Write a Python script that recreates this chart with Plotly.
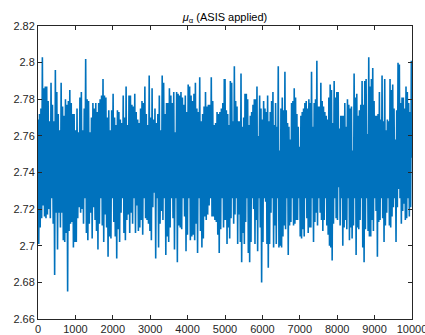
import numpy as np
import plotly.graph_objects as go

# MCMC trace of mu_alpha (ASIS applied), read off the picture as alternating
# upper / lower excursions of the chain.
# Iterations 1 - 5000
trace_first_half = [
    2.769, 2.701, 2.772, 2.710, 2.775, 2.715, 2.803, 2.722, 2.786, 2.716,
    2.787, 2.715, 2.787, 2.717, 2.779, 2.720, 2.768, 2.715, 2.789, 2.726,
    2.777, 2.712, 2.768, 2.684, 2.796, 2.718, 2.784, 2.698, 2.772, 2.718,
    2.763, 2.710, 2.789, 2.718, 2.776, 2.703, 2.771, 2.702, 2.780, 2.707,
    2.777, 2.675, 2.779, 2.708, 2.785, 2.712, 2.778, 2.713, 2.772, 2.699,
    2.772, 2.702, 2.763, 2.702, 2.775, 2.715, 2.762, 2.721, 2.781, 2.718,
    2.784, 2.720, 2.763, 2.712, 2.775, 2.726, 2.802, 2.707, 2.780, 2.703,
    2.779, 2.712, 2.762, 2.718, 2.770, 2.704, 2.778, 2.721, 2.775, 2.714,
    2.778, 2.708, 2.773, 2.698, 2.778, 2.712, 2.780, 2.726, 2.782, 2.711,
    2.791, 2.702, 2.782, 2.717, 2.781, 2.710, 2.770, 2.694, 2.774, 2.705,
    2.763, 2.704, 2.774, 2.726, 2.783, 2.713, 2.770, 2.705, 2.766, 2.693,
    2.774, 2.709, 2.773, 2.702, 2.769, 2.718, 2.767, 2.726, 2.782, 2.707,
    2.770, 2.703, 2.787, 2.714, 2.766, 2.717, 2.782, 2.707, 2.782, 2.718,
    2.777, 2.712, 2.776, 2.726, 2.783, 2.707, 2.773, 2.722, 2.769, 2.708,
    2.767, 2.710, 2.775, 2.714, 2.779, 2.706, 2.778, 2.726, 2.787, 2.715,
    2.772, 2.714, 2.766, 2.712, 2.793, 2.708, 2.770, 2.703, 2.786, 2.721,
    2.769, 2.729, 2.775, 2.693, 2.767, 2.726, 2.772, 2.699, 2.782, 2.712,
    2.763, 2.719, 2.793, 2.714, 2.789, 2.726, 2.772, 2.695, 2.778, 2.705,
    2.778, 2.702, 2.786, 2.710, 2.782, 2.726, 2.778, 2.715, 2.784, 2.698,
    2.762, 2.726, 2.784, 2.691, 2.783, 2.711, 2.782, 2.710, 2.784, 2.709,
    2.781, 2.726, 2.777, 2.716, 2.782, 2.697, 2.773, 2.706, 2.788, 2.726,
    2.787, 2.703, 2.782, 2.705, 2.779, 2.706, 2.783, 2.703, 2.789, 2.712,
    2.775, 2.696, 2.773, 2.726, 2.792, 2.708, 2.768, 2.699, 2.772, 2.704,
    2.776, 2.716, 2.784, 2.714, 2.776, 2.717, 2.777, 2.722, 2.777, 2.726,
    2.792, 2.716, 2.779, 2.716, 2.766, 2.714, 2.767, 2.713, 2.773, 2.706,
    2.772, 2.696, 2.773, 2.709, 2.775, 2.726, 2.778, 2.710, 2.791, 2.714,
]
# Iterations 5001 - 10000
trace_second_half = [
    2.791, 2.714, 2.774, 2.701, 2.772, 2.710, 2.766, 2.704, 2.790, 2.715,
    2.789, 2.726, 2.768, 2.712, 2.798, 2.717, 2.779, 2.726, 2.776, 2.701,
    2.768, 2.717, 2.768, 2.702, 2.794, 2.691, 2.765, 2.707, 2.770, 2.701,
    2.783, 2.713, 2.783, 2.726, 2.780, 2.696, 2.766, 2.691, 2.771, 2.702,
    2.773, 2.726, 2.777, 2.720, 2.780, 2.701, 2.780, 2.714, 2.787, 2.697,
    2.760, 2.726, 2.782, 2.710, 2.775, 2.680, 2.769, 2.702, 2.779, 2.726,
    2.775, 2.724, 2.773, 2.701, 2.782, 2.688, 2.768, 2.701, 2.773, 2.718,
    2.779, 2.726, 2.784, 2.699, 2.766, 2.711, 2.778, 2.701, 2.765, 2.726,
    2.798, 2.699, 2.752, 2.700, 2.775, 2.699, 2.781, 2.705, 2.774, 2.711,
    2.795, 2.709, 2.774, 2.726, 2.767, 2.695, 2.765, 2.711, 2.758, 2.713,
    2.778, 2.726, 2.779, 2.711, 2.786, 2.712, 2.781, 2.714, 2.772, 2.714,
    2.765, 2.726, 2.754, 2.705, 2.771, 2.704, 2.773, 2.709, 2.775, 2.705,
    2.778, 2.726, 2.779, 2.715, 2.775, 2.707, 2.780, 2.710, 2.778, 2.710,
    2.795, 2.726, 2.765, 2.702, 2.778, 2.713, 2.780, 2.718, 2.801, 2.711,
    2.776, 2.726, 2.776, 2.718, 2.789, 2.714, 2.779, 2.708, 2.776, 2.714,
    2.773, 2.726, 2.771, 2.711, 2.769, 2.706, 2.781, 2.700, 2.788, 2.699,
    2.785, 2.692, 2.767, 2.712, 2.790, 2.726, 2.781, 2.715, 2.784, 2.714,
    2.784, 2.732, 2.764, 2.711, 2.771, 2.726, 2.771, 2.700, 2.771, 2.710,
    2.778, 2.714, 2.765, 2.709, 2.780, 2.726, 2.777, 2.703, 2.775, 2.710,
    2.776, 2.704, 2.752, 2.711, 2.794, 2.726, 2.781, 2.695, 2.783, 2.710,
    2.771, 2.709, 2.774, 2.714, 2.777, 2.726, 2.790, 2.699, 2.777, 2.691,
    2.790, 2.709, 2.791, 2.726, 2.761, 2.708, 2.803, 2.705, 2.787, 2.705,
    2.791, 2.714, 2.797, 2.708, 2.779, 2.726, 2.771, 2.719, 2.771, 2.694,
    2.772, 2.713, 2.784, 2.714, 2.769, 2.726, 2.793, 2.715, 2.768, 2.702,
    2.791, 2.711, 2.763, 2.718, 2.769, 2.726, 2.768, 2.711, 2.791, 2.710,
    2.785, 2.716, 2.788, 2.721, 2.775, 2.726, 2.758, 2.702, 2.774, 2.721,
    2.800, 2.731, 2.799, 2.726, 2.778, 2.712, 2.781, 2.719, 2.781, 2.723,
    2.775, 2.714, 2.787, 2.715, 2.784, 2.726, 2.778, 2.716, 2.773, 2.721,
    2.801, 2.748,
]

x_tick_vals = [0, 1000, 2000, 3000, 4000, 5000, 6000, 7000, 8000, 9000, 10000]
x_tick_text = ["0", "1000", "2000", "3000", "4000", "5000", "6000", "7000",
               "8000", "9000", "10000"]
y_tick_vals = [2.66, 2.68, 2.70, 2.72, 2.74, 2.76, 2.78, 2.80, 2.82]
y_tick_text = ["2.66", "2.68", "2.7", "2.72", "2.74", "2.76", "2.78", "2.8", "2.82"]

iters = np.concatenate([
    np.linspace(1, 5000, len(trace_first_half)),
    np.linspace(5001, 10000, len(trace_second_half)),
])
values = trace_first_half + trace_second_half

fig = go.Figure(go.Scatter(
    x=iters, y=values, mode="lines",
    line=dict(color="#0072BD", width=1.6),
    showlegend=False, hoverinfo="skip",
))

font_family = "Liberation Sans, Arial, Helvetica, sans-serif"
axis_common = dict(
    ticks="inside", ticklen=4, tickwidth=1, tickcolor="#262626",
    showline=True, linecolor="#262626", linewidth=1, mirror="ticks",
    showgrid=False, zeroline=False, automargin=False,
    ticklabeloverflow="allow",
    tickfont=dict(family=font_family, size=11, color="#262626"),
)

fig.update_layout(
    width=425, height=335,
    margin=dict(l=38, r=13, t=26, b=16, pad=0),
    paper_bgcolor="white", plot_bgcolor="white",
    title=dict(
        text="<i>μ</i><sub>α</sub> (ASIS applied)",
        x=0.5, xref="paper", xanchor="center",
        y=1, yref="paper", yanchor="bottom",
        pad=dict(b=5),
        font=dict(family=font_family, size=11, color="black"),
    ),
    xaxis=dict(range=[0, 10000], tickmode="array", tickvals=x_tick_vals,
               ticktext=x_tick_text, **axis_common),
    yaxis=dict(range=[2.66, 2.82], tickmode="array", tickvals=y_tick_vals,
               ticktext=y_tick_text, **axis_common),
)

fig.write_html("out.html")
